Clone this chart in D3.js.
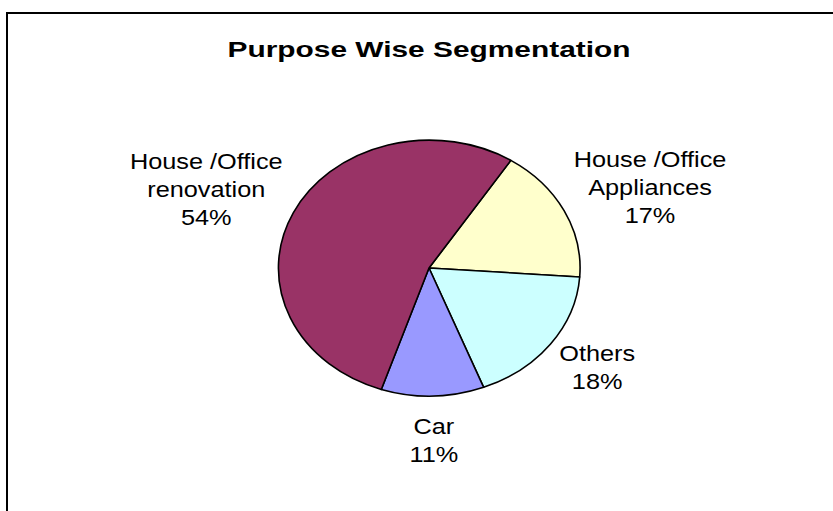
<!DOCTYPE html>
<html>
<head>
<meta charset="utf-8">
<script src="https://cdn.jsdelivr.net/npm/d3@7"></script>
<style>
  body { margin: 0; background: #fff; }
  text { font-family: "Liberation Sans", Arial, sans-serif; fill: #000; }
</style>
</head>
<body>
<svg id="chart" width="833" height="511"></svg>
<script>
// Loan purpose shares, drawn clockwise from the first slice
const chartTitle = "Purpose  Wise Segmentation";
const categories = ["House /Office Appliances", "Others", "Car", "House /Office renovation"];
const labelLines = [["House /Office", "Appliances"], ["Others"], ["Car"], ["House /Office", "renovation"]];
const shares = [17, 18, 11, 54];
const colors = ["#FFFFCC", "#CCFFFF", "#9999FF", "#993366"];

const W = 833, H = 511;
const cx = 429, cy = 268, rx = 151, ry = 128;
const startDeg = 32.8;
const textStretch = 1.15;     // labels are drawn slightly wide
const labelSize = 22, lineHeight = 28, labelGap = 17;

const svg = d3.select("#chart");

// frame (top and left edges of the chart area)
svg.append("path")
  .attr("d", `M7,${H} L7,13 L${W},13`)
  .attr("fill", "none")
  .attr("stroke", "#000")
  .attr("stroke-width", 2);

// title
svg.append("text")
  .attr("x", 429).attr("y", 57)
  .attr("text-anchor", "middle")
  .attr("font-size", 22)
  .attr("font-weight", "bold")
  .attr("textLength", 403)
  .attr("lengthAdjust", "spacingAndGlyphs")
  .text(chartTitle);

const data = categories.map((c, i) => ({ name: c, lines: labelLines[i], value: shares[i], color: colors[i] }));

const pie = d3.pie()
  .sort(null)
  .value(d => d.value)
  .startAngle(startDeg * Math.PI / 180)
  .endAngle(startDeg * Math.PI / 180 + 2 * Math.PI);

const arcs = pie(data);
const arc = d3.arc().innerRadius(0).outerRadius(1);

// unit pie stretched into an ellipse
const pieG = svg.append("g").attr("transform", `translate(${cx},${cy}) scale(${rx},${ry})`);
pieG.selectAll("path")
  .data(arcs)
  .join("path")
  .attr("d", arc)
  .attr("fill", d => d.data.color)
  .attr("stroke", "#000")
  .attr("stroke-width", 1.6)
  .attr("stroke-linejoin", "round")
  .attr("vector-effect", "non-scaling-stroke");

// data labels: category name lines plus percentage, outside the slice
const labelG = svg.append("g");
arcs.forEach(a => {
  const mid = (a.startAngle + a.endAngle) / 2;
  const ex = cx + rx * Math.sin(mid);
  const ey = cy - ry * Math.cos(mid);
  const len = Math.hypot(ex - cx, ey - cy);
  const ux = (ex - cx) / len, uy = (ey - cy) / len;

  const lines = a.data.lines.concat([`${a.data.value}%`]);
  const g = labelG.append("g");
  const texts = lines.map(l => g.append("text")
    .attr("text-anchor", "middle")
    .attr("font-size", labelSize)
    .text(l));
  const maxW = d3.max(texts, t => t.node().getComputedTextLength()) * textStretch;
  const halfW = maxW / 2, halfH = lines.length * lineHeight / 2;

  const lx = ex + ux * labelGap + ux * halfW;
  const ly = ey + uy * labelGap + uy * halfH;
  const top = ly - halfH;
  texts.forEach((t, i) => {
    const by = top + i * lineHeight + 21;
    t.attr("transform", `translate(${lx},${by}) scale(${textStretch},1)`);
  });
});
</script>
</body>
</html>
